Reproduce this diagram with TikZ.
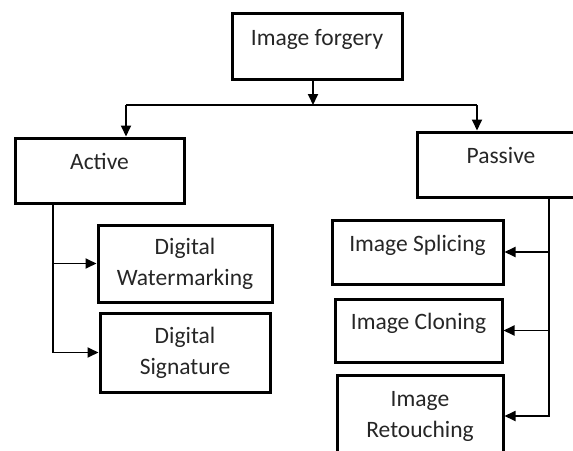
\documentclass[tikz,border=0pt]{standalone}
\usepackage{fontspec}
\setmainfont{Carlito}
\usetikzlibrary{arrows.meta}

\begin{document}
\begin{tikzpicture}[x=1pt,y=-1pt,
	   box/.style={draw=black,line width=3pt,inner sep=0pt,align=center,
	     text=black!85,font=\fontsize{23.5}{31}\selectfont},
	   oneline/.style={text height=17pt,text depth=19pt},
	   link/.style={line width=1.8pt,-{Triangle[length=11pt,width=10pt]}}]
	   \clip (0,0) rectangle (573,450);
	   \useasboundingbox (0,0) rectangle (573,450);
	   % top
	   \node (forgery) at (317,46)
	     [box,oneline,minimum width=170,minimum height=66] {Image forgery};
	   \node (active) at (99.5,170.5)
	     [box,oneline,minimum width=169,minimum height=65] {Active};
	   \node (passive) at (501,164.5)
	     [box,oneline,minimum width=168,minimum height=65] {Passive};
	   % active side
	   \node (water) at (185,263.5)
	     [box,minimum width=174,minimum height=77] {Digital\\Watermarking};
	   \node (sign) at (185,352.5)
	     [box,minimum width=170,minimum height=79] {Digital\\Signature};
	   % passive side
	   \node (splice) at (417.5,252)
	     [box,oneline,minimum width=171,minimum height=64] {Image Splicing};
	   \node (clone) at (418.5,330.5)
	     [box,oneline,minimum width=167,minimum height=63] {Image Cloning};
	   \node (retouch) at (420,416)
	     [box,minimum width=166,minimum height=82] {Image\\Retouching};
	   \coordinate (hub) at (313,105);
	   \coordinate (lturn) at (126,105);
	   \coordinate (rturn) at (477,105);
	   \coordinate (abranch) at (53,203);
	   \coordinate (pbranch) at (549,197);
	   \draw [link] (forgery.south -| hub) -- (hub);
	   \draw [line width=1.8pt] (lturn) -- (rturn);
	   \draw [link] (lturn) -- (lturn |- active.north);
	   \draw [link] (rturn) -- (rturn |- passive.north);
	   \draw [link] (abranch) |- (water.west);
	   \draw [link] (abranch) |- (sign.west);
	   \draw [link] (pbranch) |- (splice.east);
	   \draw [link] (pbranch) |- (clone.east);
	   \draw [link] (pbranch) |- (retouch.east);
\end{tikzpicture}
\end{document}
